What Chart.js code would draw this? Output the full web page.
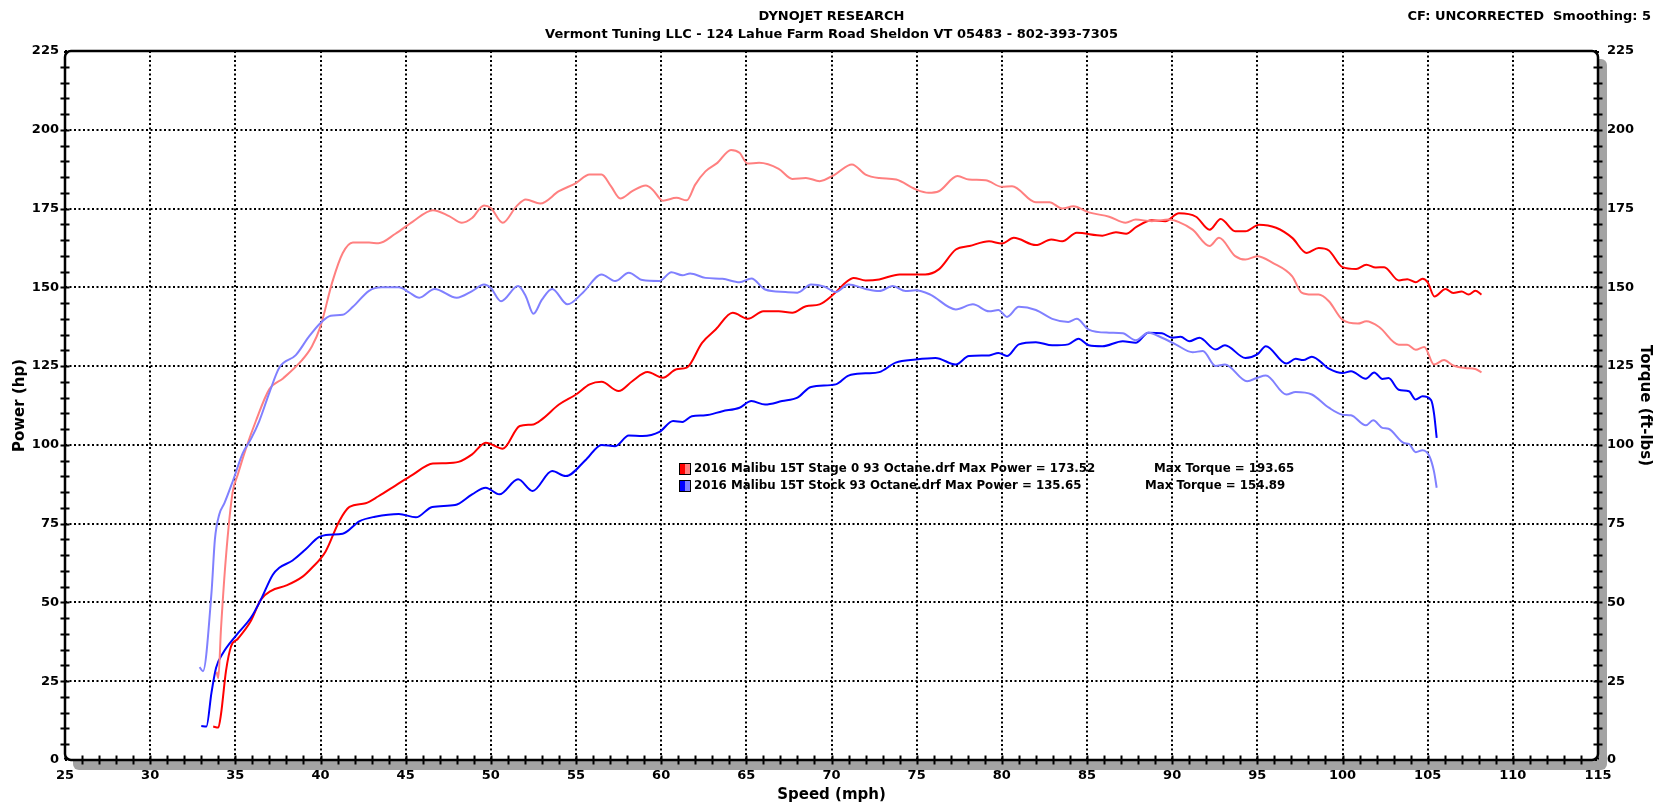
<!DOCTYPE html>
<html>
<head>
<meta charset="utf-8">
<title>Dynojet Research</title>
<script src="https://cdn.jsdelivr.net/npm/chart.js@4.4.1/dist/chart.umd.min.js"></script>
<style>
  html, body { margin: 0; padding: 0; background: #fff; }
  canvas { display: block; }
</style>
</head>
<body>
<canvas id="dynoChart" width="1655" height="803"></canvas>
<script>
// Run data (speed in mph, power in hp, torque in ft-lbs)
const stage0PowerSpeed = [33.7, 34.0, 34.16, 34.45, 34.75, 35.14, 35.9, 36.5, 37.1, 38.0, 38.95, 39.5, 40.3, 41.1, 41.7, 42.65, 43.4, 44.4, 45.4, 46.6, 47.3, 48.1, 48.9, 49.7, 50.7, 51.7, 52.5, 53.0, 54.0, 55.0, 55.8, 56.5, 57.5, 58.3, 59.2, 60.1, 60.9, 61.5, 62.4, 63.2, 64.2, 65.1, 66.0, 66.9, 67.7, 68.5, 69.3, 70.1, 70.8, 71.3, 72.0, 72.8, 74.0, 75.5, 76.3, 77.3, 78.1, 79.25, 80.0, 80.7, 82.0, 82.9, 83.55, 84.4, 85.9, 86.7, 87.3, 87.9, 88.8, 89.6, 90.4, 91.4, 92.2, 92.85, 93.7, 94.3, 95.1, 96.1, 97.05, 97.9, 98.6, 99.2, 100.0, 100.8, 101.4, 101.95, 102.45, 103.3, 103.8, 104.3, 104.7, 105.0, 105.4, 106.05, 106.5, 107.0, 107.4, 107.8, 108.16];
const stage0Power = [10.6, 10.3, 14.6, 28.2, 36.1, 38.4, 44.0, 50.9, 53.7, 55.4, 58.2, 61.0, 66.2, 75.8, 80.3, 81.5, 83.7, 87.1, 90.5, 94.1, 94.2, 94.6, 97.0, 100.7, 98.8, 106.0, 106.5, 108.1, 112.8, 116.0, 119.2, 120.0, 117.1, 120.2, 123.1, 121.3, 124.0, 124.5, 132.4, 136.6, 141.9, 140.0, 142.4, 142.4, 141.9, 144.0, 144.6, 147.7, 151.4, 153.0, 152.2, 152.5, 154.1, 154.1, 155.7, 162.0, 163.1, 164.6, 163.9, 165.7, 163.4, 165.2, 164.6, 167.3, 166.4, 167.5, 167.0, 169.2, 171.3, 171.0, 173.5, 172.4, 168.3, 171.7, 167.8, 167.8, 169.9, 168.9, 165.7, 160.9, 162.5, 161.7, 156.4, 155.8, 157.2, 156.3, 156.4, 152.2, 152.6, 151.6, 152.7, 151.6, 147.1, 149.5, 148.2, 148.7, 147.7, 148.9, 147.7];

const stage0TorqueSpeed = [33.9, 34.0, 34.16, 34.45, 34.84, 35.14, 35.6, 36.2, 37.0, 37.8, 38.9, 39.5, 40.0, 40.7, 41.3, 41.9, 42.85, 43.4, 44.4, 45.4, 46.6, 47.55, 48.3, 48.9, 49.6, 50.0, 50.7, 51.5, 52.05, 52.9, 54.0, 55.0, 55.8, 56.5, 57.05, 57.6, 58.3, 59.1, 59.5, 60.1, 60.9, 61.5, 62.0, 62.6, 63.3, 64.1, 64.6, 65.07, 65.75, 66.9, 67.7, 68.5, 69.3, 70.2, 71.2, 72.0, 72.8, 73.8, 74.9, 75.7, 76.3, 77.4, 78.07, 79.05, 80.0, 80.6, 82.0, 82.8, 83.55, 84.2, 85.1, 86.3, 87.27, 87.86, 88.8, 89.8, 90.4, 91.2, 92.2, 92.75, 93.7, 94.3, 95.0, 95.9, 97.05, 97.6, 98.2, 98.6, 99.2, 100.0, 100.9, 101.4, 102.15, 103.3, 103.8, 104.3, 104.8, 105.37, 105.96, 106.5, 107.2, 107.8, 108.16];
const stage0Torque = [28.0, 26.0, 41.8, 64.5, 84.9, 90.5, 98.5, 107.5, 117.7, 121.1, 126.8, 131.3, 137.6, 151.8, 160.8, 164.2, 164.2, 164.0, 167.0, 170.8, 174.5, 172.6, 170.5, 172.0, 176.0, 175.2, 170.5, 175.7, 177.9, 176.6, 180.5, 183.1, 185.8, 185.8, 182.1, 178.2, 180.5, 182.3, 181.0, 177.5, 178.4, 177.6, 182.6, 186.8, 189.5, 193.6, 192.7, 189.3, 189.5, 187.6, 184.4, 184.7, 183.7, 185.8, 189.0, 185.8, 184.7, 184.2, 181.2, 180.0, 180.5, 185.3, 184.2, 184.0, 181.9, 182.1, 177.0, 177.0, 175.0, 175.7, 173.8, 172.4, 170.5, 171.5, 171.0, 171.5, 170.7, 168.3, 163.1, 165.7, 159.9, 158.8, 159.9, 157.8, 153.5, 148.3, 147.7, 147.7, 145.6, 139.7, 138.5, 139.2, 137.4, 131.8, 131.8, 130.2, 131.1, 125.5, 126.9, 125.2, 124.4, 124.1, 123.0];

const stockPowerSpeed = [33.0, 33.3, 33.6, 33.87, 34.26, 35.04, 35.92, 36.5, 37.2, 37.58, 38.36, 39.1, 39.9, 40.5, 41.3, 42.3, 43.2, 44.6, 45.6, 46.56, 47.9, 48.9, 49.7, 50.5, 51.6, 52.45, 53.6, 54.4, 55.6, 56.5, 57.3, 58.1, 58.9, 59.9, 60.7, 61.25, 61.8, 62.6, 63.6, 64.6, 65.3, 66.1, 67.1, 68.0, 68.8, 70.25, 71.0, 72.0, 72.8, 73.77, 74.94, 76.1, 77.3, 78.07, 79.25, 79.8, 80.3, 81.0, 82.0, 82.96, 83.9, 84.5, 85.1, 85.9, 87.1, 87.86, 88.6, 89.4, 90.0, 90.5, 91.0, 91.6, 92.55, 93.1, 94.3, 95.0, 95.5, 96.7, 97.25, 97.7, 98.2, 99.2, 100.0, 100.5, 101.37, 101.86, 102.34, 102.7, 103.3, 103.9, 104.3, 104.7, 105.2, 105.37, 105.53];
const stockPower = [10.8, 10.6, 21.4, 29.3, 33.8, 39.5, 45.2, 50.9, 58.8, 61.0, 63.3, 66.7, 70.7, 71.5, 71.8, 75.8, 77.2, 78.1, 77.0, 80.3, 80.9, 84.3, 86.4, 84.3, 89.1, 85.4, 91.7, 90.1, 95.4, 100.0, 99.6, 103.0, 102.8, 104.1, 107.6, 107.3, 109.1, 109.4, 110.7, 111.8, 113.9, 112.8, 113.9, 115.0, 118.4, 119.2, 122.0, 122.7, 123.1, 126.1, 127.1, 127.6, 125.5, 128.2, 128.4, 129.2, 128.2, 131.9, 132.6, 131.6, 131.9, 133.7, 131.6, 131.3, 132.9, 132.4, 135.6, 135.4, 134.0, 134.3, 132.9, 134.0, 130.3, 131.6, 127.6, 128.7, 131.3, 125.8, 127.3, 126.9, 128.0, 124.2, 122.8, 123.4, 121.0, 123.0, 120.9, 121.2, 117.5, 117.0, 114.4, 115.4, 114.2, 110.1, 102.2];

const stockTorqueSpeed = [32.9, 33.1, 33.6, 33.8, 34.06, 34.36, 34.84, 35.43, 35.92, 36.4, 37.0, 37.58, 38.55, 39.3, 40.0, 40.6, 41.3, 41.9, 42.85, 43.6, 44.6, 45.2, 45.8, 46.7, 48.0, 48.9, 49.6, 50.0, 50.6, 51.6, 52.05, 52.5, 53.0, 53.6, 54.5, 55.4, 56.5, 57.3, 58.1, 58.9, 59.9, 60.6, 61.25, 61.7, 62.6, 63.6, 64.6, 65.3, 66.1, 67.3, 68.0, 68.8, 69.6, 70.25, 71.0, 72.0, 72.8, 73.6, 74.35, 74.94, 75.8, 77.3, 78.3, 79.25, 79.8, 80.3, 81.0, 82.0, 82.96, 83.9, 84.4, 85.1, 86.3, 87.1, 87.86, 88.6, 89.4, 90.2, 91.2, 91.8, 92.55, 93.1, 94.4, 95.0, 95.5, 96.7, 97.25, 98.2, 99.2, 100.0, 100.5, 101.37, 101.8, 102.34, 102.7, 103.6, 103.9, 104.3, 104.7, 105.1, 105.37, 105.53];
const stockTorque = [29.5, 28.2, 53.1, 70.0, 78.0, 81.5, 88.3, 97.3, 101.9, 107.5, 116.6, 124.5, 128.5, 134.2, 138.7, 141.0, 141.3, 143.8, 148.9, 150.0, 150.0, 148.4, 146.7, 149.5, 146.7, 148.8, 150.9, 149.8, 145.6, 150.4, 147.2, 141.6, 146.1, 149.5, 144.6, 148.3, 154.1, 152.0, 154.6, 152.3, 152.0, 154.8, 153.8, 154.4, 153.0, 152.7, 151.6, 152.8, 149.3, 148.5, 148.3, 150.9, 150.2, 148.5, 150.9, 149.5, 148.8, 150.4, 148.8, 149.1, 147.7, 143.0, 144.6, 142.4, 142.8, 140.6, 143.8, 142.8, 140.0, 139.0, 140.0, 136.6, 135.6, 135.4, 133.2, 135.6, 134.0, 131.9, 129.4, 129.8, 125.0, 125.5, 120.2, 121.3, 122.0, 116.0, 116.8, 116.0, 111.8, 109.6, 109.4, 106.2, 107.8, 105.4, 105.1, 100.6, 100.3, 97.7, 98.3, 96.4, 91.6, 86.4];

const stage0Label = '2016 Malibu 15T Stage 0 93 Octane.drf';
const stockLabel = '2016 Malibu 15T Stock 93 Octane.drf';
const stage0MaxPower = '173.52', stage0MaxTorque = '193.65';
const stockMaxPower = '135.65', stockMaxTorque = '154.89';

const FONT = '"DejaVu Sans", Verdana, sans-serif';

function toPoints(xs, ys) {
    return xs.map((x, i) => ({ x: x, y: ys[i] }));
}

// frame with rounded corners, grey drop shadow, cross ticks and all the sheet text
const dynoSheet = {
    id: 'dynoSheet',
    beforeDraw(chart) {
        const { ctx, chartArea: a } = chart;
        ctx.save();
        ctx.fillStyle = '#fff';
        ctx.fillRect(0, 0, chart.width, chart.height);
        ctx.fillStyle = '#a3a3a3';
        ctx.beginPath();
        ctx.roundRect(a.left + 8, a.top + 8, a.right - a.left + 1, a.bottom - a.top + 2, 6);
        ctx.fill();
        ctx.fillStyle = '#fff';
        ctx.fillRect(a.left, a.top, a.right - a.left, a.bottom - a.top);
        ctx.restore();
    },
    afterDatasetsDraw(chart) {
        const { ctx, chartArea: a, scales } = chart;
        ctx.save();
        ctx.strokeStyle = '#000';
        ctx.lineWidth = 2;
        ctx.beginPath();
        for (let v = 26; v < 115; v++) {
            const px = Math.round(scales.x.getPixelForValue(v)) + 0.5;
            ctx.moveTo(px, a.bottom - 4.5);
            ctx.lineTo(px, a.bottom + 4.5);
        }
        for (let v = 5; v < 225; v += 5) {
            const py = Math.round(scales.y.getPixelForValue(v)) + 0.5;
            ctx.moveTo(a.left - 4.5, py);
            ctx.lineTo(a.left + 4.5, py);
            ctx.moveTo(a.right - 4.5, py);
            ctx.lineTo(a.right + 4.5, py);
        }
        ctx.stroke();

        ctx.lineWidth = 2.5;
        ctx.beginPath();
        ctx.roundRect(a.left, a.top, a.right - a.left, a.bottom - a.top, 6);
        ctx.stroke();
        ctx.restore();
    },
    afterDraw(chart) {
        const { ctx, chartArea: a } = chart;
        const cx = (a.left + a.right) / 2;
        const cy = (a.top + a.bottom) / 2;
        ctx.save();
        ctx.fillStyle = '#000';
        ctx.textBaseline = 'middle';

        ctx.font = 'bold 13px ' + FONT;
        ctx.textAlign = 'center';
        ctx.fillText('DYNOJET RESEARCH', cx, 17);
        ctx.fillText('Vermont Tuning LLC - 124 Lahue Farm Road Sheldon VT 05483 - 802-393-7305', cx, 35);
        ctx.textAlign = 'right';
        ctx.fillText('CF: UNCORRECTED  Smoothing: 5', 1651, 17);

        ctx.font = 'bold 15px ' + FONT;
        ctx.textAlign = 'center';
        ctx.fillText('Speed (mph)', cx, 795);
        ctx.save();
        ctx.translate(20, cy);
        ctx.rotate(-Math.PI / 2);
        ctx.fillText('Power (hp)', 0, 0);
        ctx.restore();
        ctx.save();
        ctx.translate(1645, cy);
        ctx.rotate(Math.PI / 2);
        ctx.fillText('Torque (ft-lbs)', 0, 0);
        ctx.restore();

        // legend
        const rows = [
            { dark: '#ff0000', light: '#ff8080', name: stage0Label, hp: stage0MaxPower, tq: stage0MaxTorque, y: 469, tqX: 1154 },
            { dark: '#0000ff', light: '#8080ff', name: stockLabel, hp: stockMaxPower, tq: stockMaxTorque, y: 486, tqX: 1145 }
        ];
        ctx.font = 'bold 11.8px ' + FONT;
        ctx.textAlign = 'left';
        rows.forEach(r => {
            ctx.fillStyle = r.dark;
            ctx.fillRect(679, r.y - 6, 6, 12);
            ctx.fillStyle = r.light;
            ctx.fillRect(685, r.y - 6, 6, 12);
            ctx.strokeStyle = '#000';
            ctx.lineWidth = 1;
            ctx.strokeRect(679.5, r.y - 5.5, 11, 11);
            ctx.fillStyle = '#000';
            ctx.fillText(r.name + ' Max Power = ' + r.hp, 694, r.y);
            ctx.fillText('Max Torque = ' + r.tq, r.tqX, r.y);
        });
        ctx.restore();
    }
};

const tickFont = { family: FONT, size: 13, weight: 'bold' };
const gridStyle = { color: '#000', lineWidth: 2, drawTicks: false };

const dynoChart = new Chart(document.getElementById('dynoChart'), {
    type: 'line',
    data: {
        datasets: [
            {
                label: 'Stock Torque',
                data: toPoints(stockTorqueSpeed, stockTorque),
                borderColor: '#8080ff',
                borderWidth: 2
            },
            {
                label: 'Stage 0 Torque',
                data: toPoints(stage0TorqueSpeed, stage0Torque),
                borderColor: '#ff8080',
                borderWidth: 2
            },
            {
                label: 'Stock Power',
                data: toPoints(stockPowerSpeed, stockPower),
                borderColor: '#0000ff',
                borderWidth: 2
            },
            {
                label: 'Stage 0 Power',
                data: toPoints(stage0PowerSpeed, stage0Power),
                borderColor: '#ff0000',
                borderWidth: 2
            }
        ]
    },
    options: {
        responsive: false,
        animation: false,
        devicePixelRatio: 1,
        cubicInterpolationMode: 'monotone',
        elements: { point: { radius: 0 } },
        layout: { padding: { top: 51, left: 0, right: 0, bottom: 0 } },
        plugins: {
            legend: { display: false },
            tooltip: { enabled: false }
        },
        scales: {
            x: {
                type: 'linear',
                position: 'bottom',
                min: 25,
                max: 115,
                ticks: { stepSize: 5, color: '#000', font: tickFont, padding: 8, maxRotation: 0 },
                grid: gridStyle,
                border: { display: false, dash: [2, 2.5] },
                afterFit(scale) { scale.height = 43; }
            },
            y: {
                position: 'left',
                min: 0,
                max: 225,
                ticks: { stepSize: 25, color: '#000', font: tickFont, padding: 6 },
                grid: gridStyle,
                border: { display: false, dash: [2, 2.5] },
                afterFit(scale) { scale.width = 65; }
            },
            y2: {
                position: 'right',
                min: 0,
                max: 225,
                ticks: { stepSize: 25, color: '#000', font: tickFont, padding: 9 },
                grid: { display: false, drawTicks: false },
                border: { display: false },
                afterFit(scale) { scale.width = 57; }
            }
        }
    },
    plugins: [dynoSheet]
});
</script>
</body>
</html>
